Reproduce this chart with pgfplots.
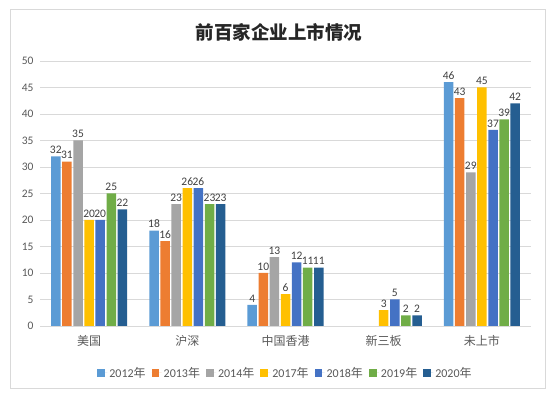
\documentclass[border=0pt]{standalone}
\usepackage{pgfplots}
\pgfplotsset{compat=1.18}
\usepackage{fontspec}
\setmainfont{Carlito}
\newfontfamily\cjk{Noto Sans CJK SC}
\definecolor{c1}{HTML}{5B9BD5}
\definecolor{c2}{HTML}{ED7D31}
\definecolor{c3}{HTML}{A5A5A5}
\definecolor{c4}{HTML}{FFC000}
\definecolor{c5}{HTML}{4472C4}
\definecolor{c6}{HTML}{70AD47}
\definecolor{c7}{HTML}{255E91}
\definecolor{gridc}{HTML}{D9D9D9}
\definecolor{txt}{HTML}{595959}
\definecolor{lbl}{HTML}{404040}
\pgfplotsset{sqleg/.style={legend image code/.code={\fill[##1,draw=none] (0pt,-3.8pt) rectangle (7.6pt,3.8pt);\path (0pt,0pt) -- (10pt,0pt);}}}
\begin{document}
\begin{tikzpicture}
\path[use as bounding box] (0pt,0pt) rectangle (555pt,396pt);
\draw[gridc, line width=0.8pt] (10pt,8pt) rectangle (545pt,387pt);
\node[font=\cjk\bfseries\fontsize{18.5}{21}\selectfont, text=black!85] at (279pt,364pt) {前百家企业上市情况};
\begin{axis}[
  at={(40pt,70pt)}, anchor=south west, scale only axis,
  width=491pt, height=265pt,
  ybar=1.6pt, bar width=9.5pt,
  xmin=-0.5, xmax=4.5, ymin=0, ymax=50,
  ytick={0,5,...,50}, xtick={0,1,2,3,4},
  xticklabels={{\cjk 美国},{\cjk 沪深},{\cjk 中国香港},{\cjk 新三板},{\cjk 未上市}},
  axis line style={draw=none},
  major tick length=0pt,
  ymajorgrids, grid style={gridc, line width=0.8pt},
  /pgf/number format/assume math mode=true,
  yticklabel style={font=\fontsize{11.5}{13}\selectfont, text=txt, xshift=-3pt},
  xticklabel style={font=\fontsize{12}{14}\selectfont, text=txt, yshift=-6pt},
  nodes near coords,
  every node near coord/.append style={font=\fontsize{11.5}{13}\selectfont, text=lbl, inner sep=1.5pt, yshift=1pt},
  legend columns=7,
  legend style={draw=none, at={(0.5,-0.177)}, anchor=center, font=\fontsize{12}{14}\selectfont, text=txt,
    /tikz/every even column/.append style={column sep=4pt}},
  legend cell align=left,
]
\addplot[fill=c1, draw=none, sqleg] coordinates {(0,32) (1,18) (2,4) (4,46)};
\addplot[fill=c2, draw=none, sqleg] coordinates {(0,31) (1,16) (2,10) (4,43)};
\addplot[fill=c3, draw=none, sqleg] coordinates {(0,35) (1,23) (2,13) (4,29)};
\addplot[fill=c4, draw=none, sqleg] coordinates {(0,20) (1,26) (2,6) (3,3) (4,45)};
\addplot[fill=c5, draw=none, sqleg] coordinates {(0,20) (1,26) (2,12) (3,5) (4,37)};
\addplot[fill=c6, draw=none, sqleg] coordinates {(0,25) (1,23) (2,11) (3,2) (4,39)};
\addplot[fill=c7, draw=none, sqleg] coordinates {(0,22) (1,23) (2,11) (3,2) (4,42)};
\legend{2012{\cjk 年},2013{\cjk 年},2014{\cjk 年},2017{\cjk 年},2018{\cjk 年},2019{\cjk 年},2020{\cjk 年}}
\end{axis}
\end{tikzpicture}
\end{document}
